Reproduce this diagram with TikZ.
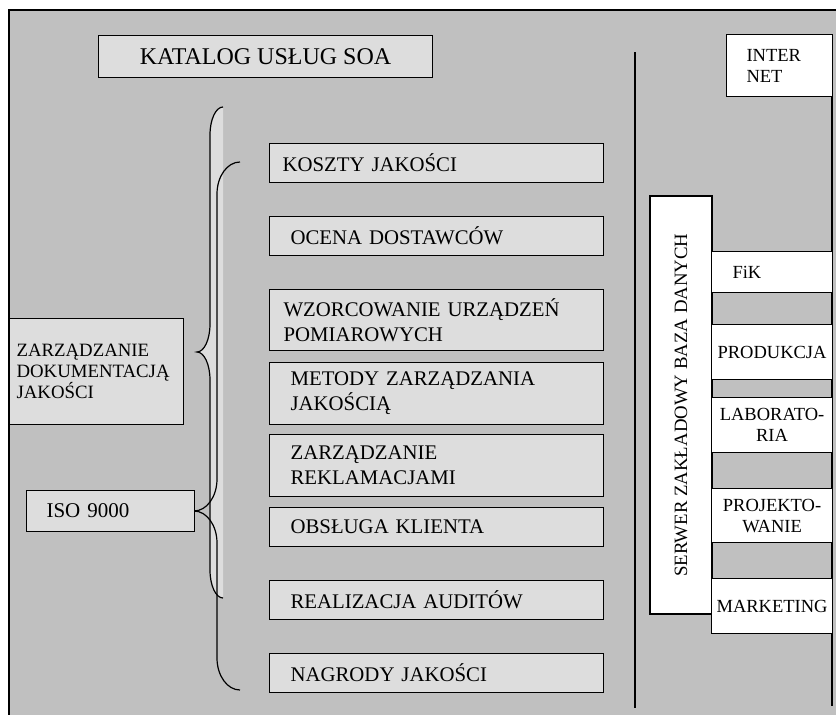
\documentclass[tikz,border=0pt]{standalone}
\usepackage{fontspec}
\setmainfont{Liberation Serif}
\definecolor{bggray}{HTML}{C0C0C0}
\definecolor{boxgray}{HTML}{DDDDDD}
\tikzset{
  frameline/.style={line width=1.3pt, black},
  bracel/.style={line width=1.2pt, black},
  gbox/.style={draw, line width=1.1pt, fill=boxgray, rectangle, anchor=north west, inner ysep=0pt},
  wbox/.style={draw, line width=1.1pt, fill=white, rectangle, anchor=north west, inner ysep=0pt},
  midfont/.style={font=\fontsize{20.8}{25}\selectfont},
  rfont/.style={font=\fontsize{18.5}{21}\selectfont},
}
\begin{document}
\begin{tikzpicture}[x=1pt, y=-1pt]
\useasboundingbox (0,0) rectangle (836,715);
\fill[white] (0,0) rectangle (836,715);
\fill[bggray] (9,10) rectangle (836,715);
% frame lines
\coordinate (ftl) at (9,10);
\coordinate (ftr) at (836,10);
\coordinate (fbl) at (9,715);
\coordinate (rtop) at (832,34);
\coordinate (rbot) at (832,706);
\coordinate (stop) at (635,52);
\coordinate (sbot) at (635,708);
\draw[frameline] (fbl) -- (ftl) -- (ftr);
\draw[frameline] (rtop) -- (rbot);
\draw[frameline] (stop) -- (sbot);

% outer brace (filled towards the right)
\fill[boxgray] (223,107) .. controls (215.8,107) and (210,119.5) .. (210,135)
  -- (210,324) .. controls (210,339.5) and (204.2,352) .. (197,352)
  .. controls (204.2,352) and (210,364.5) .. (210,380)
  -- (210,570) .. controls (210,585.5) and (215.8,598) .. (223,598) -- cycle;
\draw[bracel] (223,107) .. controls (215.8,107) and (210,119.5) .. (210,135)
  -- (210,324) .. controls (210,339.5) and (204.2,352) .. (197,352)
  .. controls (204.2,352) and (210,364.5) .. (210,380)
  -- (210,570) .. controls (210,585.5) and (215.8,598) .. (223,598);
% inner brace
\draw[bracel] (240,162) .. controls (227.3,162) and (217,176.3) .. (217,194)
  -- (217,479) .. controls (217,496.7) and (206.7,511) .. (194,511)
  .. controls (206.7,511) and (217,525.3) .. (217,543)
  -- (217,658) .. controls (217,675.7) and (227.3,690) .. (240,690);

% title
\node[gbox, minimum width=334pt, minimum height=42pt, align=center,
  font=\fontsize{24}{28}\selectfont] (katalog) at (98,35) {KATALOG USŁUG SOA};

% left boxes
\node[gbox, minimum width=174pt, minimum height=106pt, inner xsep=7pt, text width=160pt,
  align=left, font=\fontsize{18.8}{21}\selectfont] (zdj) at (9,318)
  {ZARZĄDZANIE\\DOKUMENTACJĄ\\JAKOŚCI};
\node[gbox, minimum width=168pt, minimum height=41pt, inner xsep=20pt, text width=128pt,
  align=left, font=\fontsize{21}{25}\selectfont] (iso) at (26,490) {ISO 9000};

% middle boxes
\node[gbox, midfont, minimum width=334pt, minimum height=39pt, inner xsep=13pt, text width=308pt, align=left] (koszty) at (269,143) {KOSZTY JAKOŚCI};
\node[gbox, midfont, minimum width=334pt, minimum height=39pt, inner xsep=21pt, text width=292pt, align=left] (ocena) at (269,216) {OCENA DOSTAWCÓW};
\node[gbox, midfont, minimum width=334pt, minimum height=61pt, inner xsep=14pt, text width=306pt, align=left] (wzorc) at (269,289) {WZORCOWANIE URZĄDZEŃ\\POMIAROWYCH};
\node[gbox, midfont, minimum width=334pt, minimum height=62pt, inner xsep=21pt, text width=292pt, align=left] (metody) at (269,362) {METODY ZARZĄDZANIA\\JAKOŚCIĄ};
\node[gbox, midfont, minimum width=334pt, minimum height=62pt, inner xsep=21pt, text width=292pt, align=left] (reklam) at (269,434) {ZARZĄDZANIE\\REKLAMACJAMI};
\node[gbox, midfont, minimum width=334pt, minimum height=39pt, inner xsep=21pt, text width=292pt, align=left] (obsl) at (269,507) {OBSŁUGA KLIENTA};
\node[gbox, midfont, minimum width=334pt, minimum height=39pt, inner xsep=21pt, text width=292pt, align=left] (audit) at (269,580) {REALIZACJA AUDITÓW};
\node[gbox, midfont, minimum width=334pt, minimum height=39pt, inner xsep=21pt, text width=292pt, align=left] (nagr) at (269,653) {NAGRODY JAKOŚCI};

% internet
\node[wbox, rfont, minimum width=106pt, minimum height=62pt, inner xsep=20pt, text width=66pt, align=left] (inet) at (726,34) {INTER\\NET};

% server
\node[draw, line width=1.1pt, fill=white, rectangle, minimum width=418pt, minimum height=62pt,
  rotate=90, font=\fontsize{18.8}{21}\selectfont, inner sep=0pt] (serwer) at (681,405) {SERWER ZAKŁADOWY BAZA DANYCH};

% department boxes
\node[wbox, rfont, minimum width=121pt, minimum height=41pt, inner xsep=21pt, text width=79pt, align=left] (fik) at (711,251) {FiK};
\node[wbox, rfont, minimum width=121pt, minimum height=55pt, inner xsep=0pt, text width=121pt, align=center] (prod) at (711,324) {PRODUKCJA};
\node[wbox, rfont, minimum width=121pt, minimum height=55pt, inner xsep=0pt, text width=121pt, align=center] (lab) at (711,397) {LABORATO-\\RIA};
\node[wbox, rfont, minimum width=121pt, minimum height=54pt, inner xsep=0pt, text width=121pt, align=center] (proj) at (711,488) {PROJEKTO-\\WANIE};
\node[wbox, rfont, minimum width=121pt, minimum height=55pt, inner xsep=0pt, text width=121pt, align=center] (mark) at (711,578) {MARKETING};
\end{tikzpicture}
\end{document}
